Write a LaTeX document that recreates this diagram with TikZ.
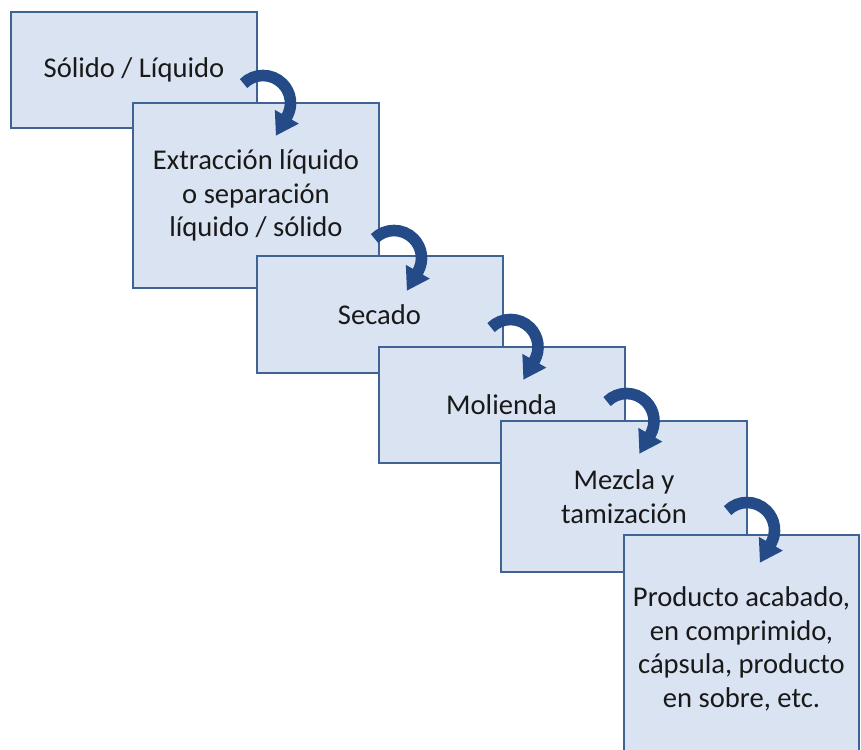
\documentclass[tikz,border=0pt]{standalone}
\usepackage{fontspec}
\setmainfont{Carlito}
\usetikzlibrary{arrows.meta,calc}
\definecolor{relleno}{HTML}{DAE3F2}
\definecolor{borde}{HTML}{3F6394}
\definecolor{flechazul}{HTML}{244B87}

\begin{document}
\begin{tikzpicture}[x=0.5pt, y=0.5pt,
    paso/.style={draw=borde, line width=1pt, fill=relleno, inner sep=0pt,
      minimum width=123pt, align=center, text=black!90,
      font=\fontsize{14.3}{16.8}\selectfont},
    giro/.style={draw=flechazul, line width=5.8pt,
      -{Triangle[length=11pt, width=13pt]}}
  ]
  \useasboundingbox (0,0) rectangle (861,-749);
  \node[paso, minimum height=58pt]   (b1) at (134,-70)     {Sólido / Líquido};
  \node[paso, minimum height=92.5pt] (b2) at (256,-195.5)  {Extracción líquido\\ o separación\\ líquido / sólido};
  \node[paso, minimum height=58.5pt] (b3) at (379.5,-314.5) {Secado};
  \node[paso, minimum height=58pt]   (b4) at (501.5,-405)  {Molienda};
  \node[paso, minimum height=75.5pt] (b5) at (624,-496.5)  {Mezcla y\\ tamización};
  \node[paso, minimum height=114pt, minimum width=117.5pt] (b6) at (741.5,-649)
    {Producto acabado,\\ en comprimido,\\ cápsula, producto\\ en sobre, etc.};

  \draw[giro] ($(b1.east |- b2.north)+(5,-1)$) ++(135:27.5) arc[start angle=135, end angle=-30, radius=27.5] -- ++(-120:22);
  \draw[giro] ($(b2.east |- b3.north)+(14,-3)$) ++(135:27.5) arc[start angle=135, end angle=-30, radius=27.5] -- ++(-120:22);
  \draw[giro] ($(b3.east |- b4.north)+(7,-1)$) ++(135:27.5) arc[start angle=135, end angle=-30, radius=27.5] -- ++(-120:22);
  \draw[giro] ($(b4.east |- b5.north)+(1,-1)$) ++(135:27.5) arc[start angle=135, end angle=-30, radius=27.5] -- ++(-120:22);
  \draw[giro] ($(b5.east |- b6.north)+(-1,4)$) ++(135:27.5) arc[start angle=135, end angle=-30, radius=27.5] -- ++(-120:22);
\end{tikzpicture}
\end{document}
